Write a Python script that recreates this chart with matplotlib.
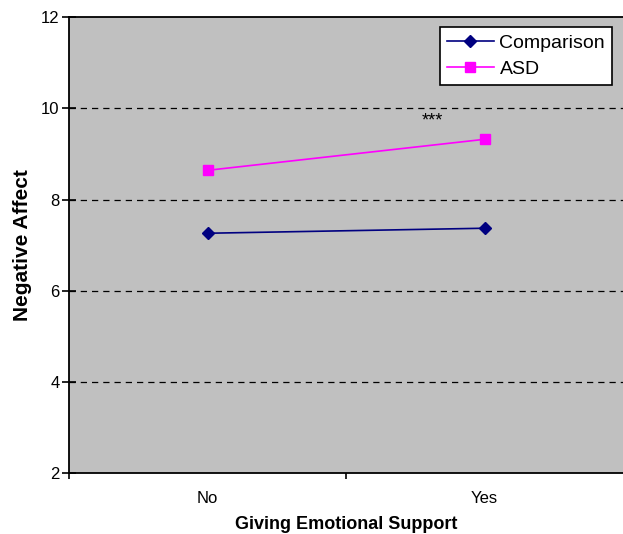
import matplotlib
matplotlib.use("Agg")
import matplotlib.pyplot as plt

plt.rcParams['font.family'] = ['Liberation Sans', 'DejaVu Sans']

# data
categories = ["No", "Yes"]
comparison = [7.26, 7.37]
asd = [8.64, 9.32]
y_ticks = [2, 4, 6, 8, 10, 12]

fig = plt.figure(figsize=(6.23, 5.34), dpi=100)
ax = fig.add_axes([0.111, 0.114, 0.889, 0.854])
ax.set_facecolor("#c0c0c0")

xpos = [i + 0.5 for i in range(len(categories))]
ax.plot(xpos, comparison, color="#000080", marker="D", markersize=6,
        linewidth=1.2, label="Comparison", clip_on=False)
ax.plot(xpos, asd, color="#ff00ff", marker="s", markersize=7.5,
        linewidth=1.2, label="ASD", clip_on=False)

ax.set_xlim(0, len(categories))
ax.set_ylim(2, 12)
ax.set_yticks(y_ticks)
for y in y_ticks[1:-1]:
    ax.axhline(y, color="black", linestyle=(0, (5, 4)), linewidth=0.9, zorder=0)

# category boundaries get the tick marks, labels sit between them
ax.set_xticks([0, 1])
ax.set_xticklabels([])
ax.set_xticks(xpos, minor=True)
ax.set_xticklabels(categories, minor=True)
ax.tick_params(axis="x", which="minor", length=0, pad=13, labelsize=12)
ax.tick_params(axis="x", which="major", length=4, direction="out", width=1.2)
ax.tick_params(axis="y", length=10, direction="inout", labelsize=12, width=1.2, pad=2)

ax.spines["right"].set_visible(False)
for s in ["left", "bottom", "top"]:
    ax.spines[s].set_linewidth(1.3)

ax.text(1.313, 9.73, "***", fontsize=13, ha="center", va="center")

ax.set_xlabel("Giving Emotional Support", fontsize=13, fontweight="bold", labelpad=7)
ax.set_ylabel("Negative Affect", fontsize=15, fontweight="bold", labelpad=6)

leg = ax.legend(loc="upper right", bbox_to_anchor=(0.980, 0.978), fontsize=14,
                frameon=True, fancybox=False, edgecolor="black", facecolor="white",
                framealpha=1, borderaxespad=0, handlelength=2.4, borderpad=0.35,
                labelspacing=0.45, handletextpad=0.3)
leg.get_frame().set_linewidth(1.2)

fig.savefig("out.png", dpi=100)
